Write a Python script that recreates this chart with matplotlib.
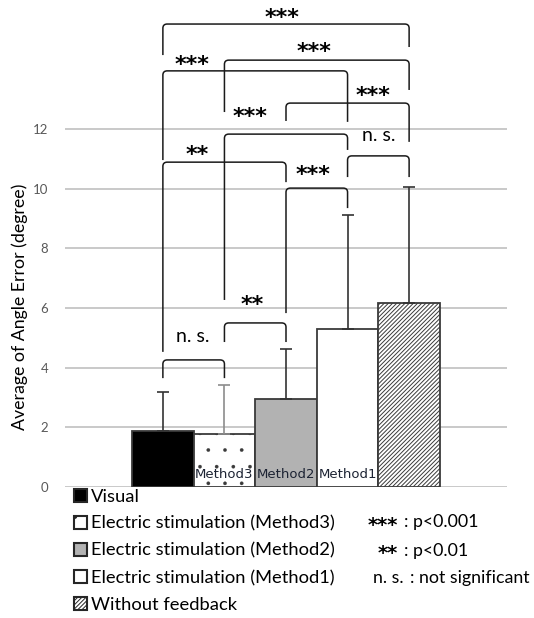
import numpy as np
import matplotlib
matplotlib.use('Agg')
import matplotlib.pyplot as plt
from matplotlib.path import Path
from matplotlib.patches import PathPatch

plt.rcParams['font.family'] = ['Lato', 'DejaVu Sans']
plt.rcParams['hatch.linewidth'] = 0.7

# datos
grupos = ['Visual', 'Electric stimulation (Method3)', 'Electric stimulation (Method2)',
          'Electric stimulation (Method1)', 'Without feedback']
etiquetas_barra = ['', 'Method3', 'Method2', 'Method1', '']
media = [1.88, 1.78, 2.95, 5.29, 6.18]
erro = [1.30, 1.64, 1.68, 3.83, 3.88]

# comparacoes: (i, j, altura, fim perna esq, fim perna dir, texto, x texto, y texto)
comparacoes = [
    (0, 4, 15.52, 14.48, 14.75, '***', 1.93, 15.89),
    (1, 4, 14.31, 12.57, 13.31, '***', 2.46, 14.75),
    (0, 3, 13.95, 10.96, 12.24, '***', 0.47, 14.31),
    (2, 4, 12.87, 12.27, 11.57, '***', 3.41, 13.28),
    (1, 3, 11.83, 6.27, 11.30, '***', 1.41, 12.57),
    (3, 4, 11.10, 10.39, 10.39, 'n. s.', 3.51, 11.80),
    (0, 2, 10.89, 4.53, 10.22, '**', 0.55, 11.30),
    (2, 3, 10.02, 5.83, 9.35, '***', 2.44, 10.63),
    (1, 2, 5.50, 4.86, 4.86, '**', 1.45, 6.27),
    (0, 1, 4.26, 3.65, 3.65, 'n. s.', 0.49, 5.03),
]

notas_sig = ['***', '**', 'n. s.']
notas_txt = [': p<0.001', ': p<0.01', ': not significant']

W, H = 534, 618
fig = plt.figure(figsize=(W / 100, H / 100), dpi=100)
ax = fig.add_axes([65 / W, (H - 487) / H, 442 / W, 487 / H])

x = np.arange(len(media))
cores = ['black', 'white', '#b2b2b2', 'white', 'white']
hachuras = ['', '.', '', '', '////////']
barras = ax.bar(x, media, width=1.0, color=cores, edgecolor='#3a3a3a', linewidth=1.3,
                zorder=2)
for b, h, nome in zip(barras, hachuras, grupos):
    b.set_hatch(h)
    b.set_label(nome)
    if h == '.' and hasattr(b, 'set_hatch_linewidth'):
        b.set_hatch_linewidth(0.2)

cor_erro = ['#333333', '#8c8c8c', '#333333', '#333333', '#333333']
for xi, m, e, c in zip(x, media, erro, cor_erro):
    ax.errorbar(xi, m, yerr=[[0], [e]], fmt='none', ecolor=c, elinewidth=1.2,
                capsize=4, capthick=1.2, zorder=3)

for xi, t in zip(x, etiquetas_barra):
    if t:
        ax.text(xi, 0.43, t, ha='center', va='center', fontsize=9.5,
                color='#1c2333', family='DejaVu Sans', zorder=4)

# chaves de significancia
rx, ry = 0.07, 0.14
for i, j, h, yl, yr, txt, tx, ty in comparacoes:
    xl, xr = x[i], x[j]
    verts = [(xl, yl), (xl, h - ry), (xl, h), (xl + rx, h),
             (xr - rx, h), (xr, h), (xr, h - ry), (xr, yr)]
    codes = [Path.MOVETO, Path.LINETO, Path.CURVE3, Path.CURVE3,
             Path.LINETO, Path.CURVE3, Path.CURVE3, Path.LINETO]
    ax.add_patch(PathPatch(Path(verts, codes), fill=False, edgecolor='#1a1a1a',
                           lw=1.1, clip_on=False, zorder=5))
    if txt.startswith('*'):
        ax.text(tx, ty - 0.17, txt, ha='center', va='center', fontsize=16,
                fontweight='bold', family='DejaVu Sans', zorder=6)
    else:
        ax.text(tx, ty, txt, ha='center', va='center', fontsize=14, zorder=6)

ax.set_xlim(-1.59, 5.59)
ax.set_ylim(0, 487 / 29.83)
ax.set_yticks(np.arange(0, 13, 2))
ax.set_xticks([])
ax.grid(axis='y', color='#c9c9c9', lw=1.4)
ax.set_axisbelow(True)
for s in ax.spines.values():
    s.set_visible(False)
ax.tick_params(axis='y', length=0, pad=12, labelsize=9.5, labelcolor='#595959')

fig.text(20 / W, 1 - 307 / H, 'Average of Angle Error (degree)', rotation=90,
         ha='center', va='center', fontsize=12.8)

leg = ax.legend(handles=list(barras), loc='upper left',
                bbox_to_anchor=(70 / W, 1 - 485 / H), bbox_transform=fig.transFigure,
                frameon=False, fontsize=13.2, handlelength=0.72, handleheight=0.72,
                handletextpad=0.2, labelspacing=0.6, borderpad=0.2, borderaxespad=0)
for p in leg.get_patches():
    p.set_linewidth(1.5)
    p.set_edgecolor('#262626')

notas_y = [522, 551, 578]
for s, t, yy in zip(notas_sig, notas_txt, notas_y):
    if s.startswith('*'):
        fig.text(398 / W, 1 - (yy + 3) / H, s, ha='right', va='center', fontsize=14,
                 fontweight='bold', family='DejaVu Sans')
        fig.text(404 / W, 1 - yy / H, t, ha='left', va='center', fontsize=12.8)
    else:
        fig.text(404 / W, 1 - yy / H, s, ha='right', va='center', fontsize=12.8)
        fig.text(410 / W, 1 - yy / H, t, ha='left', va='center', fontsize=12.8)

fig.savefig('out.png', dpi=100)
